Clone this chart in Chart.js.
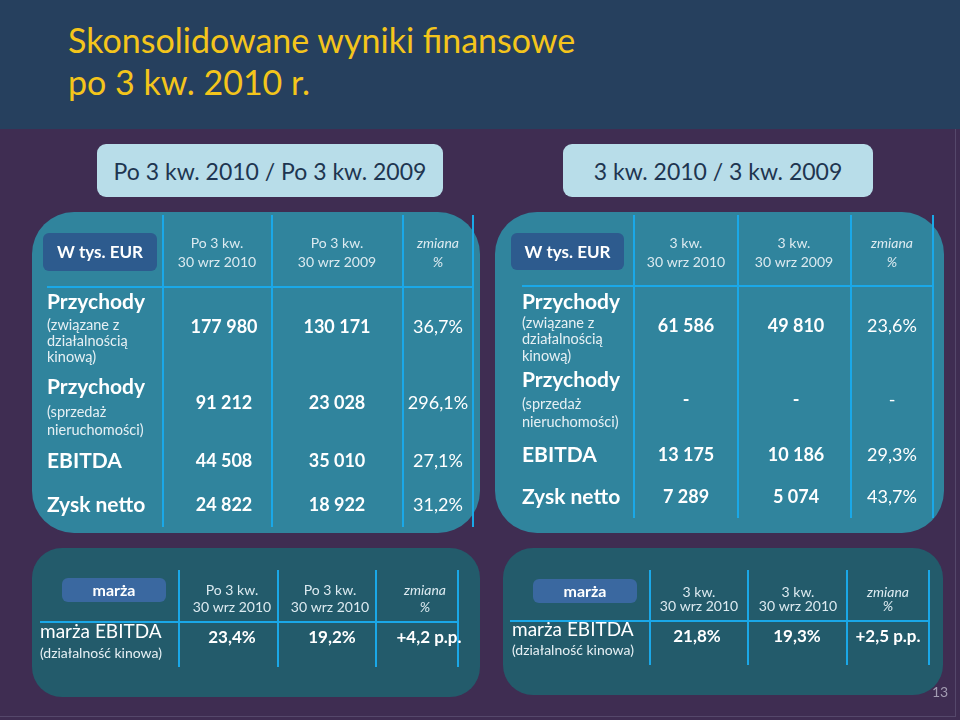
<!DOCTYPE html>
<html><head><meta charset="utf-8">
<script src="https://cdn.jsdelivr.net/npm/chart.js@4.4.1/dist/chart.umd.min.js"></script>
<style>
html,body{margin:0;padding:0;width:960px;height:720px;overflow:hidden;background:#3f2d52;font-family:Lato,"Open Sans",sans-serif;}
#stage{position:relative;width:960px;height:720px;}
.band{position:absolute;left:0;top:0;width:960px;height:129px;background:#26405e;}
.title{position:absolute;left:68px;top:19px;color:#f4c51b;font-size:34px;line-height:42px;white-space:nowrap;}
.sect{position:absolute;top:144px;height:53px;background:#b8dde9;border-radius:9px;color:#1e3550;font-size:23px;display:flex;align-items:center;justify-content:center;white-space:nowrap;}
.panel{position:absolute;}
canvas{position:absolute;left:0;top:0;}
.pg{position:absolute;left:932px;top:683px;color:#a39cb2;font-size:14px;}
.edge{position:absolute;left:955px;top:129px;width:1px;height:588px;background:#55486b;}
.edgeb{position:absolute;left:0;top:716px;width:956px;height:1px;background:#55486b;}
</style></head>
<body><div id="stage">
<div class="band"></div>
<div class="title">Skonsolidowane wyniki finansowe<br>po 3 kw. 2010 r.</div>
<div class="sect" style="left:97px;width:346px;">Po 3 kw. 2010 / Po 3 kw. 2009</div>
<div class="sect" style="left:563px;width:310px;">3 kw. 2010 / 3 kw. 2009</div>
<div class="panel" style="left:32px;top:212px;width:448px;height:321px;border-radius:42px;background:#30849d;"></div>
<div class="panel" style="left:495px;top:212px;width:449px;height:321px;border-radius:42px;background:#30849d;"></div>
<div class="panel" style="left:32px;top:548px;width:448px;height:149px;border-radius:30px;background:#235b6b;"></div>
<div class="panel" style="left:503px;top:548px;width:440px;height:147px;border-radius:30px;background:#235b6b;"></div>
<div class="edge"></div><div class="edgeb"></div>
<canvas id="tl" width="960" height="720"></canvas>
<canvas id="tr" width="960" height="720"></canvas>
<canvas id="bl" width="960" height="720"></canvas>
<canvas id="br" width="960" height="720"></canvas>
<div class="pg">13</div>
</div>
<script>
// ---------------- data ----------------
const rowTitles = ['Przychody', 'Przychody', 'EBITDA', 'Zysk netto'];
const rowNotes = [['(związane z', 'działalnością', 'kinową)'], ['(sprzedaż', 'nieruchomości)'], [], []];
const unitLabel = 'W tys. EUR';
const ytdHeaders = [['Po 3 kw.', '30 wrz 2010'], ['Po 3 kw.', '30 wrz 2009'], ['zmiana', '%']];
const q3Headers = [['3 kw.', '30 wrz 2010'], ['3 kw.', '30 wrz 2009'], ['zmiana', '%']];
const ytd2010 = [177980, 91212, 44508, 24822];
const ytd2009 = [130171, 23028, 35010, 18922];
const ytdChange = [36.7, 296.1, 27.1, 31.2];
const q3_2010 = [61586, null, 13175, 7289];
const q3_2009 = [49810, null, 10186, 5074];
const q3Change = [23.6, null, 29.3, 43.7];
const marginLabel = 'marża';
const marginTitles = ['marża EBITDA'];
const marginNotes = [['(działalność kinowa)']];
const marginHeadersYtd = [['Po 3 kw.', '30 wrz 2010'], ['Po 3 kw.', '30 wrz 2010'], ['zmiana', '%']];
const marginHeadersQ3 = [['3 kw.', '30 wrz 2010'], ['3 kw.', '30 wrz 2010'], ['zmiana', '%']];
const marginYtd2010 = [23.4];
const marginYtd2009 = [19.2];
const marginYtdChange = [4.2];
const marginQ3_2010 = [21.8];
const marginQ3_2009 = [19.3];
const marginQ3Change = [2.5];

// ---------------- formatting ----------------
const fmtNum = v => v == null ? '-' : String(v).replace(/\B(?=(\d{3})+(?!\d))/g, ' ');
const fmtPct = v => v == null ? '-' : v.toFixed(1).replace('.', ',') + '%';
const fmtPP = v => v == null ? '-' : (v >= 0 ? '+' : '') + v.toFixed(1).replace('.', ',') + ' p.p.';

const LINE = '#1aa8e8';
const FONT = 'Lato, "Open Sans", sans-serif';

function tablePlugin(L, T) {
  return {
    id: 'tableText',
    afterDraw(chart) {
      const ctx = chart.ctx, xs = chart.scales.x, ys = chart.scales.y;
      const X = v => xs.getPixelForValue(v), Y = v => ys.getPixelForValue(v);
      ctx.save();
      // unit box
      const bx0 = X(L.box[0]), by0 = Y(L.box[1]), bx1 = X(L.box[2]), by1 = Y(L.box[3]);
      ctx.fillStyle = T.boxColor;
      ctx.beginPath(); ctx.roundRect(bx0, by0, bx1 - bx0, by1 - by0, 6); ctx.fill();
      ctx.fillStyle = '#ffffff'; ctx.font = T.boxFont; ctx.textAlign = 'center'; ctx.textBaseline = 'middle';
      ctx.fillText(T.boxText, (bx0 + bx1) / 2, (by0 + by1) / 2 + 1);
      // column headers
      T.headers.forEach((h, c) => {
        ctx.font = (c === T.headers.length - 1 ? 'italic ' : '') + T.hdrFont;
        ctx.fillStyle = '#dceaf0';
        h.forEach((line, i) => ctx.fillText(line, X(L.hdrX[c]), Y(L.headerY[i])));
      });
      // row labels
      ctx.textAlign = 'left';
      T.titles.forEach((t, r) => {
        ctx.fillStyle = '#ffffff'; ctx.font = T.titleFont;
        ctx.fillText(t, X(L.labelX), Y(L.titleY[r]));
        ctx.font = T.noteFont; ctx.fillStyle = '#e6f0f4';
        (T.notes[r] || []).forEach((n, i) => ctx.fillText(n, X(L.labelX), Y(L.noteStart[r] + i * L.noteStep[r])));
      });
      // cell values, positioned by the dataset elements
      ctx.textAlign = 'center'; ctx.fillStyle = '#ffffff';
      chart.data.datasets.forEach((ds, d) => {
        const meta = chart.getDatasetMeta(d);
        ctx.font = T.valueFonts[d];
        meta.data.forEach((pt, r) => ctx.fillText(ds.texts[r], pt.x, pt.y));
      });
      ctx.restore();
    }
  };
}

function buildTable(id, L, T) {
  const W = L.area[2] - L.area[0], H = L.area[3] - L.area[1];
  const datasets = T.columns.map((col, c) => ({
    data: col.map((v, r) => ({ x: L.valX[c], y: L.valueY[r] })),
    texts: col.map(T.formats[c]),
    pointRadius: 0, pointHoverRadius: 0, showLine: false
  }));
  const axis = {
    type: 'linear', border: { display: false },
    grid: { color: LINE, lineWidth: 2, drawTicks: false },
    ticks: { display: false }
  };
  new Chart(document.getElementById(id), {
    type: 'scatter',
    data: { datasets },
    options: {
      responsive: false, animation: false, events: [],
      layout: { padding: { left: L.area[0], top: L.area[1], right: 960 - L.area[2], bottom: 720 - L.area[3] } },
      plugins: { legend: { display: false }, tooltip: { enabled: false } },
      scales: {
        x: Object.assign({}, axis, { min: 0, max: W, afterBuildTicks: s => { s.ticks = L.vLines.map(v => ({ value: v })); } }),
        y: Object.assign({}, axis, { reverse: true, min: 0, max: H, afterBuildTicks: s => { s.ticks = [{ value: L.hLine }]; } })
      }
    },
    plugins: [tablePlugin(L, T)]
  });
}

// ---------------- layouts (table geometry) ----------------
const layoutTL = { area: [47, 215, 473, 527], vLines: [116, 225, 356, 426], hLine: 72,
  hdrX: [170, 290, 391], valX: [177, 290, 391], headerY: [28, 47], box: [-4, 18, 110, 56],
  labelX: 0, titleY: [87, 172, 246, 290], noteStart: [110, 197], noteStep: [16, 18], valueY: [112, 188, 246, 290] };
const layoutTR = { area: [522, 215, 933, 518], vLines: [112, 216, 329, 411], hLine: 71,
  hdrX: [164, 272, 370], valX: [164, 274, 370], headerY: [28, 47], box: [-11, 18, 102, 55],
  labelX: 0, titleY: [87, 165, 240, 282], noteStart: [108, 189], noteStep: [16.5, 18], valueY: [111, 185, 240, 282] };
const layoutBL = { area: [40, 570, 458, 667], vLines: [139, 238, 336, 418], hLine: 52,
  hdrX: [192, 290, 385], valX: [192, 292, 389], headerY: [20, 37], box: [22, 8, 126, 32],
  labelX: 0, titleY: [62], noteStart: [83], noteStep: [0], valueY: [68] };
const layoutBR = { area: [510, 570, 929, 665], vLines: [140, 238, 337, 419], hLine: 51,
  hdrX: [189, 288, 378], valX: [187, 287, 378], headerY: [22, 36], box: [23, 9, 127, 33],
  labelX: 2, titleY: [60], noteStart: [80], noteStep: [0], valueY: [67] };

const bigText = { boxColor: '#2d5b8e', boxText: unitLabel, boxFont: 'bold 17px ' + FONT,
  hdrFont: '14px ' + FONT, titleFont: 'bold 21px ' + FONT, noteFont: '14.5px ' + FONT,
  titles: rowTitles, notes: rowNotes,
  valueFonts: ['bold 18px ' + FONT, 'bold 18px ' + FONT, '18px ' + FONT],
  formats: [fmtNum, fmtNum, fmtPct] };
const smallText = { boxColor: '#3a68a0', boxText: marginLabel, boxFont: 'bold 16px ' + FONT,
  hdrFont: '14px ' + FONT, titleFont: '19px ' + FONT, noteFont: '14px ' + FONT,
  titles: marginTitles, notes: marginNotes,
  valueFonts: ['bold 17px ' + FONT, 'bold 17px ' + FONT, 'bold 17px ' + FONT],
  formats: [fmtPct, fmtPct, fmtPP] };

buildTable('tl', layoutTL, Object.assign({}, bigText, { headers: ytdHeaders, columns: [ytd2010, ytd2009, ytdChange] }));
buildTable('tr', layoutTR, Object.assign({}, bigText, { headers: q3Headers, columns: [q3_2010, q3_2009, q3Change] }));
buildTable('bl', layoutBL, Object.assign({}, smallText, { headers: marginHeadersYtd, columns: [marginYtd2010, marginYtd2009, marginYtdChange] }));
buildTable('br', layoutBR, Object.assign({}, smallText, { headers: marginHeadersQ3, columns: [marginQ3_2010, marginQ3_2009, marginQ3Change] }));
</script>
</body></html>
